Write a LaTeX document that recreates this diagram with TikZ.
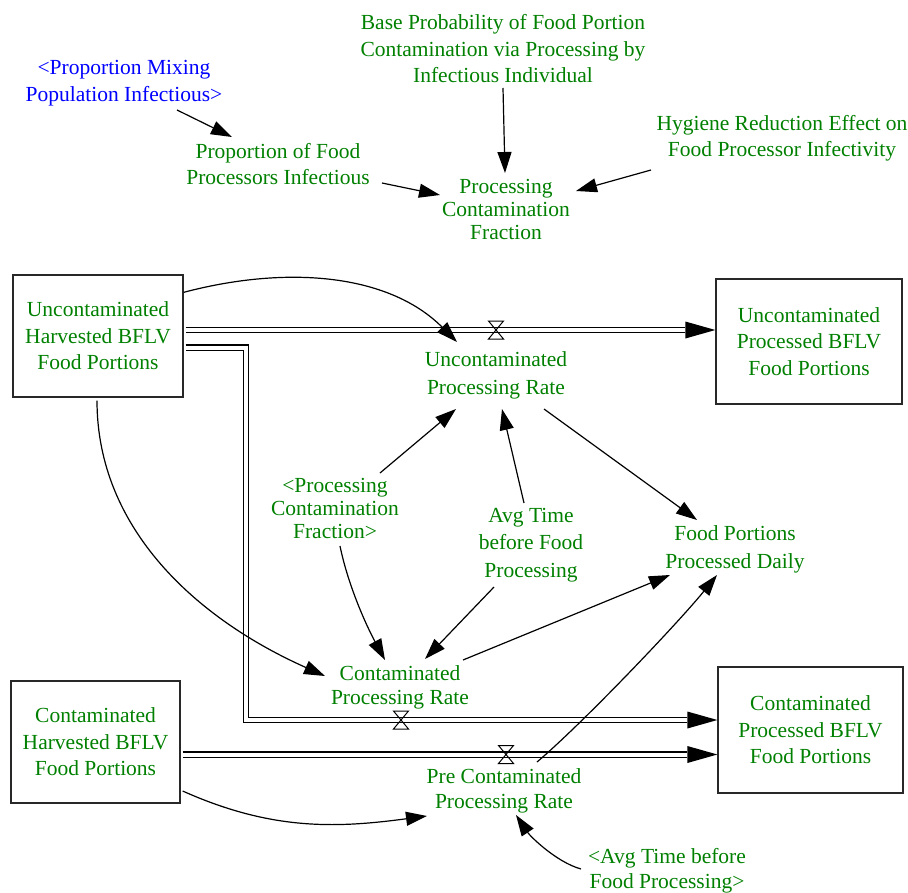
\documentclass[tikz,border=0pt]{standalone}
\usepackage{fontspec}
\setmainfont{Liberation Serif}
\usetikzlibrary{arrows.meta,calc}
\definecolor{vgreen}{RGB}{0,128,0}
\definecolor{vblue}{RGB}{0,0,255}
\definecolor{boxline}{RGB}{40,40,40}

\tikzset{
  valve/.pic={\draw[line width=1pt] (-7.5,-9) -- (7.5,-9) -- (-7.5,9) -- (7.5,9) -- cycle;}
}

\begin{document}
\begin{tikzpicture}[x=1pt,y=-1pt,
  lbl/.style={text=vgreen, align=center, inner sep=0pt, font=\fontsize{21.5}{26.5}\selectfont},
  tight/.style={font=\fontsize{21.5}{23}\selectfont},
  shadowvar/.style={text=vblue},
  stock/.style={lbl, draw=boxline, line width=1.3pt},
  conn/.style={line width=1.2pt, -{Triangle[length=21pt,width=14pt]}},
  pipe/.style={double=white, double distance=4pt, line width=1.1pt},
]
\useasboundingbox (0,0) rectangle (908,892);

% auxiliary variables
\node[lbl, shadowvar] (pmi) at (124,83) {<Proportion Mixing\\Population Infectious>};
\node[lbl] (base) at (503,49) {Base Probability of Food Portion\\Contamination via Processing by\\Infectious Individual};
\node[lbl] (hyg) at (782,138) {Hygiene Reduction Effect on\\Food Processor Infectivity};
\node[lbl] (pfpi) at (278,164) {Proportion of Food\\Processors Infectious};
\node[lbl, tight] (pcf) at (506,209) {Processing\\Contamination\\Fraction};

% stocks
\node[stock, minimum width=170pt, minimum height=122pt] (ucH) at (98,336) {Uncontaminated\\Harvested BFLV\\Food Portions};
\node[stock, minimum width=186pt, minimum height=125pt] (ucP) at (809,341.5) {Uncontaminated\\Processed BFLV\\Food Portions};
\node[stock, minimum width=169pt, minimum height=122pt] (cH) at (95.5,742) {Contaminated\\Harvested BFLV\\Food Portions};
\node[stock, minimum width=185pt, minimum height=126pt] (cP) at (810.5,730) {Contaminated\\Processed BFLV\\Food Portions};

% rates and other variables
\node[lbl, font=\fontsize{21.5}{28}\selectfont] (upr) at (496,375) {Uncontaminated\\Processing Rate};
\node[lbl, tight] (ppcf) at (335,508) {<Processing\\Contamination\\Fraction>};
\node[lbl, font=\fontsize{21.5}{27.5}\selectfont] (avg) at (531,545) {Avg Time\\before Food\\Processing};
\node[lbl, font=\fontsize{21.5}{28}\selectfont] (fppd) at (735,549) {Food Portions\\Processed Daily};
\node[lbl, font=\fontsize{21.5}{24}\selectfont] (cpr) at (400,687) {Contaminated\\Processing Rate};
\node[lbl, font=\fontsize{21.5}{25}\selectfont] (pcpr) at (504,791) {Pre Contaminated\\Processing Rate};
\node[lbl, font=\fontsize{21.5}{25}\selectfont] (pavg) at (667,871) {<Avg Time before\\Food Processing>};

% flow pipes
\draw[pipe] ($(ucH.east)+(2,-6)$) -- ($(ucP.west)+(-30,-11.5)$);
\fill ($(ucP.west)+(0,-11.5)$) -- ++(-30,-8.5) -- ++(0,17) -- cycle;
\draw[pipe] ($(ucH.east)+(2,11.5)$) -- (246,347.5) -- (246,720) -- ($(cP.west)+(-30,-10)$);
\fill ($(cP.west)+(0,-10)$) -- ++(-30,-8.5) -- ++(0,17) -- cycle;
\draw[pipe] ($(cH.east)+(2,12.5)$) -- ($(cP.west)+(-30,24.5)$);
\fill ($(cP.west)+(0,24.5)$) -- ++(-30,-8.5) -- ++(0,17) -- cycle;

% valves
\pic at (496,330) {valve};
\pic at (401,720) {valve};
\pic at (506,754.5) {valve};

% causal links
\draw[conn] ($(pmi)+(53,27)$) -- ($(pfpi)+(-46,-27)$);
\draw[conn] ($(pfpi)+(104,19)$) -- ($(pcf)+(-66,-14)$);
\draw[conn] ($(base)+(0,39)$) -- ($(pcf)+(-1,-36)$);
\draw[conn] ($(hyg)+(-131,32)$) -- ($(pcf)+(70,-18)$);
\draw[conn] ($(ucH.north east)+(0,18)$) .. controls (283,266) and (387,272) .. ($(upr)+(-39,-33)$);
\draw[conn] ($(ucH.south)+(-1,3)$) .. controls (97,529) and (197,619) .. ($(cpr)+(-75,-11)$);
\draw[conn] ($(ppcf)+(45,-35)$) -- ($(upr)+(-40,34)$);
\draw[conn] ($(ppcf)+(5,38)$) .. controls (348,585) and (366,625) .. ($(cpr)+(-15,-27)$);
\draw[conn] ($(avg)+(-7,-42)$) -- ($(upr)+(6,34)$);
\draw[conn] ($(avg)+(-37,42)$) -- ($(cpr)+(25,-28)$);
\draw[conn] ($(upr)+(48,34)$) -- ($(fppd)+(-38,-29)$);
\draw[conn] ($(cpr)+(63,-27)$) -- ($(fppd)+(-65,26)$);
\draw[conn] ($(pcpr)+(33,-29)$) .. controls (583,723) and (679,622) .. ($(fppd)+(-18,26)$);
\draw[conn] ($(cH.east)+(2,49)$) .. controls (272,831) and (337,828) .. ($(pcpr)+(-77,25)$);
\draw[conn] ($(pavg)+(-86,-2)$) .. controls (556,862) and (530,836) .. ($(pcpr)+(12,24)$);
\end{tikzpicture}
\end{document}
